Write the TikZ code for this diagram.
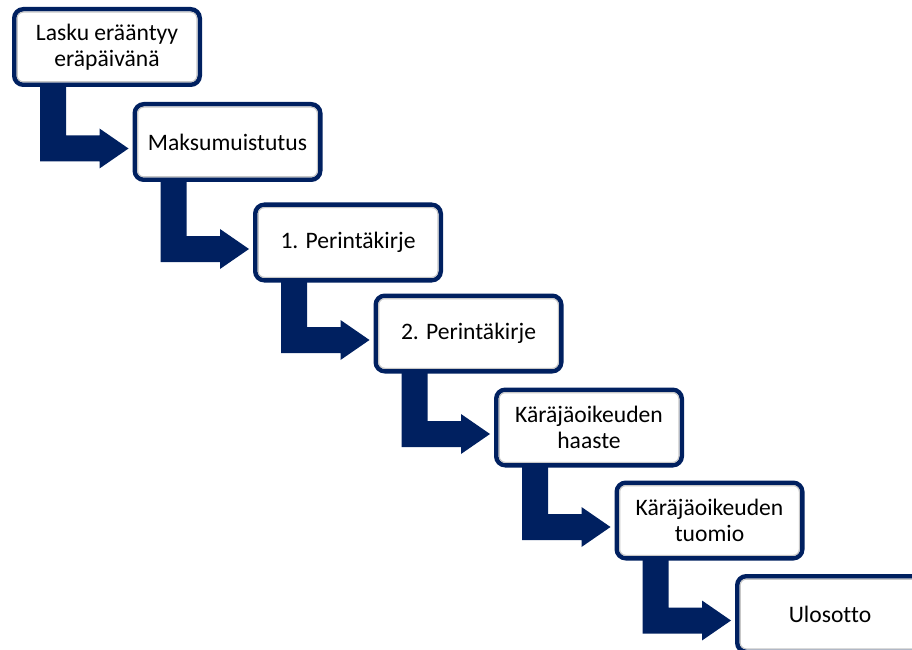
\documentclass[tikz,border=0pt]{standalone}
\usepackage{fontspec}
\setmainfont[Ligatures={NoCommon}]{Carlito}
\usetikzlibrary{calc}
\definecolor{navy}{RGB}{0,32,96}
\begin{document}
\begin{tikzpicture}[x=1pt,y=1pt,
  stepbox/.style={draw=navy, fill=white, line width=4.5pt, rounded corners=9pt,
    minimum width=185.5pt, minimum height=75.5pt, outer sep=2.25pt, inner sep=2pt,
    align=center, font=\fontsize{23.6}{26}\selectfont, text=black},
  bentarrow/.style={fill=navy}]
\useasboundingbox (0,0) rectangle (912,649);
\clip (0,0) rectangle (912,649);
\node[stepbox] (b1) at (107,602) {Lasku erääntyy\\eräpäivänä};
\node[stepbox] (b2) at (227.5,507) {Maksumuistutus};
\node[stepbox] (b3) at (348,406.5) {1. Perintäkirje};
\node[stepbox] (b4) at (468.5,315.5) {2. Perintäkirje};
\node[stepbox] (b5) at (589,221.5) {Käräjäoikeuden\\haaste};
\node[stepbox] (b6) at (709.5,128.5) {Käräjäoikeuden\\tuomio};
\node[stepbox] (b7) at (830,35) {Ulosotto};
\foreach \b in {b1,b2,b3,b4,b5,b6,b7}{
  \draw[black!22, line width=1.1pt, rounded corners=6pt]
    ($(\b.south west)+(5.2,5.2)$) rectangle ($(\b.north east)+(-5.2,-5.2)$);
}
\foreach \a/\b in {b1/b2,b2/b3,b3/b4,b4/b5,b5/b6,b6/b7}{
  \fill[bentarrow] let \p1=(\a.south west), \p2=(\b.west) in
    (\x1+28pt,\y1+1pt) -- (\x1+28pt,\y2-19.5pt) -- (\x2-33pt,\y2-19.5pt)
    -- (\x2-33pt,\y2-26.5pt) -- (\x2-4pt,\y2-6.5pt) -- (\x2-33pt,\y2+13.5pt)
    -- (\x2-33pt,\y2+6.5pt) -- (\x1+54pt,\y2+6.5pt) -- (\x1+54pt,\y1+1pt) -- cycle;
}
\end{tikzpicture}
\end{document}
